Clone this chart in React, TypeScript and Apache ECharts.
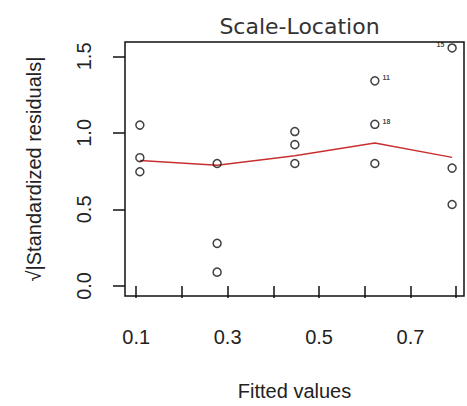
import React, { useEffect, useRef } from "react";
import * as echarts from "echarts";

// Fitted values (x) and sqrt|standardized residuals| (y)
const fittedX = [0.108, 0.108, 0.108, 0.277, 0.277, 0.277, 0.447, 0.447, 0.447, 0.622, 0.622, 0.622, 0.791, 0.791, 0.791];
const sqrtResid = [1.051, 0.838, 0.746, 0.80, 0.278, 0.09, 1.009, 0.923, 0.80, 1.34, 1.056, 0.80, 1.555, 0.77, 0.532];
const pointLabels = ["", "", "", "", "", "", "", "", "", "11", "18", "", "15", "", ""];
const labelSide = ["", "", "", "", "", "", "", "", "", "right", "right", "", "left", "", ""];

// Smoother (red line)
const smoothX = [0.108, 0.277, 0.447, 0.622, 0.791];
const smoothY = [0.819, 0.788, 0.85, 0.934, 0.84];

// Axis ticks
const xTicks = [0.1, 0.2, 0.3, 0.4, 0.5, 0.6, 0.7, 0.8];
const xTickLabels = [0.1, 0.3, 0.5, 0.7];
const yTicks = [0.0, 0.5, 1.0, 1.5];

const TEXT = "#222";

export default function App() {
  const ref = useRef<HTMLDivElement>(null);
  useEffect(() => {
    if (!ref.current) return;
    const chart = echarts.init(ref.current, null, { renderer: "svg" });
    const pts = fittedX.map((x, i) => {
      const item: any = { value: [x, sqrtResid[i]] };
      if (pointLabels[i]) {
        item.label = {
          show: true,
          formatter: pointLabels[i],
          position: labelSide[i],
          distance: 3,
          fontSize: 7,
          fontWeight: "bold",
          color: "#111",
          fontFamily: "Liberation Sans",
          offset: [0, -3],
        };
      }
      return item;
    });
    chart.setOption({
      animation: false,
      backgroundColor: "#ffffff",
      title: {
        text: "Scale-Location",
        left: 294.5,
        textAlign: "center",
        top: 10,
        textStyle: {
          fontFamily: "DejaVu Sans",
          fontSize: 22,
          fontWeight: "normal",
          color: "#333",
        },
      },
      grid: {
        left: 125,
        top: 42,
        width: 339,
        height: 259,
        show: true,
        borderColor: "#111",
        borderWidth: 1.5,
        backgroundColor: "transparent",
      },
      xAxis: {
        type: "value",
        min: 0.0755,
        max: 0.817,
        name: "Fitted values",
        nameLocation: "middle",
        nameGap: 85,
        nameTextStyle: { fontFamily: "Liberation Sans", fontSize: 20, color: TEXT },
        axisLine: { show: false },
        splitLine: { show: false },
        axisTick: {
          show: true,
          inside: false,
          length: 12,
          lineStyle: { color: "#111", width: 1.5 },
          customValues: xTicks,
        },
        axisLabel: {
          show: true,
          margin: 31,
          fontFamily: "Liberation Sans",
          fontSize: 20,
          color: TEXT,
          customValues: xTickLabels,
          formatter: (v: number) => v.toFixed(1),
        },
      },
      yAxis: {
        type: "value",
        min: -0.066,
        max: 1.594,
        name: "√|Standardized residuals|",
        nameLocation: "middle",
        nameGap: 81,
        nameRotate: 90,
        nameTextStyle: { fontFamily: "Liberation Sans", fontSize: 20, color: TEXT },
        axisLine: { show: false },
        splitLine: { show: false },
        axisTick: {
          show: true,
          inside: false,
          length: 12,
          lineStyle: { color: "#111", width: 1.5 },
          customValues: yTicks,
        },
        axisLabel: {
          show: true,
          rotate: 90,
          margin: 31,
          fontFamily: "Liberation Sans",
          fontSize: 20,
          color: TEXT,
          customValues: yTicks,
          formatter: (v: number) => v.toFixed(1),
        },
      },
      series: [
        {
          type: "line",
          data: smoothX.map((x, i) => [x, smoothY[i]]),
          showSymbol: false,
          symbol: "none",
          lineStyle: { color: "#c83030", width: 1.5 },
          z: 2,
        },
        {
          type: "scatter",
          data: pts,
          symbol: "circle",
          symbolSize: 8,
          itemStyle: { color: "rgba(255,255,255,0)", borderColor: "#111", borderWidth: 1.5 },
          z: 3,
        },
      ],
    });
    return () => chart.dispose();
  }, []);
  return (
    <div
      ref={ref}
      style={{ position: "fixed", left: 0, top: 0, width: 467, height: 406, background: "#fff" }}
    />
  );
}
